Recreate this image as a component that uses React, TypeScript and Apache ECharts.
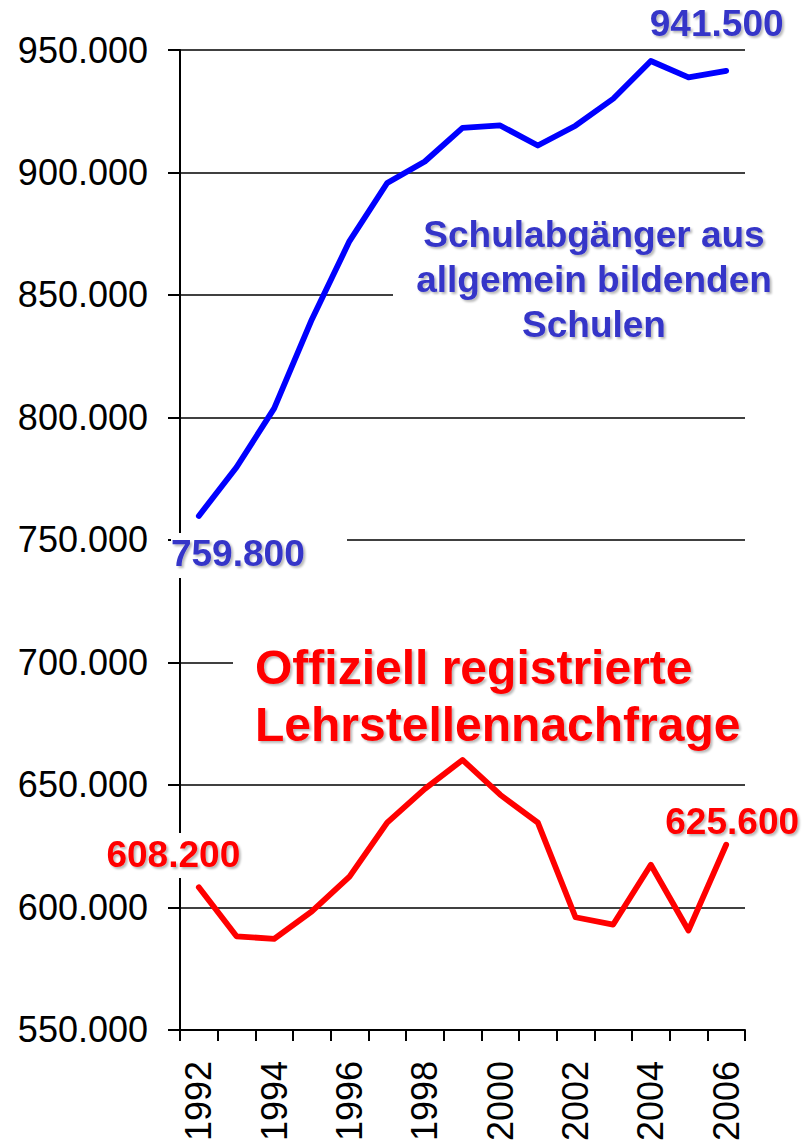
import React, { useEffect, useRef } from "react";
import * as echarts from "echarts";

const years = ["1992", "1993", "1994", "1995", "1996", "1997", "1998", "1999", "2000", "2001", "2002", "2003", "2004", "2005", "2006"];
const schulabgaenger = [759800, 779700, 803700, 840000, 872000, 895700, 904500, 918200, 919200, 911000, 919100, 930100, 945500, 938800, 941500];
const lehrstellen = [608200, 588200, 587200, 598400, 612600, 634600, 648400, 660200, 646000, 634600, 596000, 593000, 617400, 590600, 625600];
const yMin = 550000;
const yMax = 950000;
const yStep = 50000;
const blueTitle = "Schulabgänger aus\nallgemein bildenden\nSchulen";
const redTitle = "Offiziell registrierte\nLehrstellennachfrage";

const FONT = "'Liberation Sans', Arial, Helvetica, sans-serif";

function fmt(v: number): string {
  const t = Math.floor(v / 1000);
  const r = Math.round(v % 1000);
  return t + "." + String(r).padStart(3, "0");
}

function withEndLabels(values: number[], first: number[], last: number[]) {
  return values.map((v, i) => {
    if (i === 0) return { value: v, label: { show: true, offset: first } };
    if (i === values.length - 1) return { value: v, label: { show: true, offset: last } };
    return v;
  });
}

const shadow = {
  textShadowColor: "rgba(0,0,0,0.28)",
  textShadowOffsetX: 2,
  textShadowOffsetY: 2,
  textShadowBlur: 2,
};

export default function App() {
  const ref = useRef<HTMLDivElement>(null);
  useEffect(() => {
    document.body.style.margin = "0";
    if (!ref.current) return;
    const chart = echarts.init(ref.current, undefined, { renderer: "svg" });
    const white = (x: number, y: number, w: number, h: number) => ({
      type: "rect",
      z: 1,
      silent: true,
      shape: { x, y, width: w, height: h },
      style: { fill: "#ffffff" },
    });
    chart.setOption({
      animation: false,
      backgroundColor: "#ffffff",
      grid: { left: 180, right: 60, top: 50, bottom: 110, containLabel: false },
      xAxis: {
        type: "category",
        data: years,
        boundaryGap: true,
        axisLine: { show: true, lineStyle: { color: "#000", width: 2 } },
        axisTick: { show: true, interval: 0, length: 11, lineStyle: { color: "#000", width: 2 } },
        axisLabel: {
          interval: 1,
          rotate: 90,
          margin: 31,
          fontSize: 36,
          fontFamily: FONT,
          color: "#000",
        },
        splitLine: { show: false },
      },
      yAxis: {
        type: "value",
        min: yMin,
        max: yMax,
        interval: yStep,
        axisLine: { show: true, lineStyle: { color: "#000", width: 2 } },
        axisTick: { show: true, length: 12, lineStyle: { color: "#000", width: 2 } },
        axisLabel: {
          margin: 32,
          fontSize: 36,
          fontFamily: FONT,
          color: "#000",
          formatter: (v: number) => fmt(v),
        },
        splitLine: { show: true, lineStyle: { color: "#000", width: 1.6 } },
      },
      graphic: {
        elements: [
          white(393, 200, 370, 160),
          white(171, 533, 176, 45),
          white(233, 622, 530, 136),
          white(100, 833, 145, 45),
          {
            type: "text",
            z: 10,
            silent: true,
            x: 594,
            y: 279,
            style: {
              text: blueTitle,
              fill: "#3535C8",
              fontSize: 37,
              fontWeight: "bold",
              fontFamily: FONT,
              align: "center",
              verticalAlign: "middle",
              lineHeight: 45,
              ...shadow,
            },
          },
          {
            type: "text",
            z: 10,
            silent: true,
            x: 255,
            y: 696,
            style: {
              text: redTitle,
              fill: "#FF0000",
              fontSize: 48,
              fontWeight: "bold",
              fontFamily: FONT,
              align: "left",
              verticalAlign: "middle",
              lineHeight: 57,
              ...shadow,
            },
          },
        ],
      },
      series: [
        {
          type: "line",
          data: withEndLabels(schulabgaenger, [39, 37.5], [-9.5, -47]),
          showSymbol: true,
          symbol: "circle",
          symbolSize: 4,
          itemStyle: { color: "#0000FF" },
          lineStyle: { color: "#0000FF", width: 5.8, cap: "round", join: "round" },
          label: {
            show: false,
            position: "inside",
            formatter: (p: any) => fmt(p.value),
            fontSize: 37,
            fontWeight: "bold",
            fontFamily: FONT,
            color: "#3535C8",
            ...shadow,
          },
          emphasis: { disabled: true },
          z: 3,
        },
        {
          type: "line",
          data: withEndLabels(lehrstellen, [-25.5, -32.5], [6, -23]),
          showSymbol: true,
          symbol: "circle",
          symbolSize: 4,
          itemStyle: { color: "#FF0000" },
          lineStyle: { color: "#FF0000", width: 5.8, cap: "round", join: "round" },
          label: {
            show: false,
            position: "inside",
            formatter: (p: any) => fmt(p.value),
            fontSize: 37,
            fontWeight: "bold",
            fontFamily: FONT,
            color: "#FF0000",
            ...shadow,
          },
          emphasis: { disabled: true },
          z: 3,
        },
      ],
    });
    return () => chart.dispose();
  }, []);
  return <div ref={ref} style={{ width: 805, height: 1144 }} />;
}
